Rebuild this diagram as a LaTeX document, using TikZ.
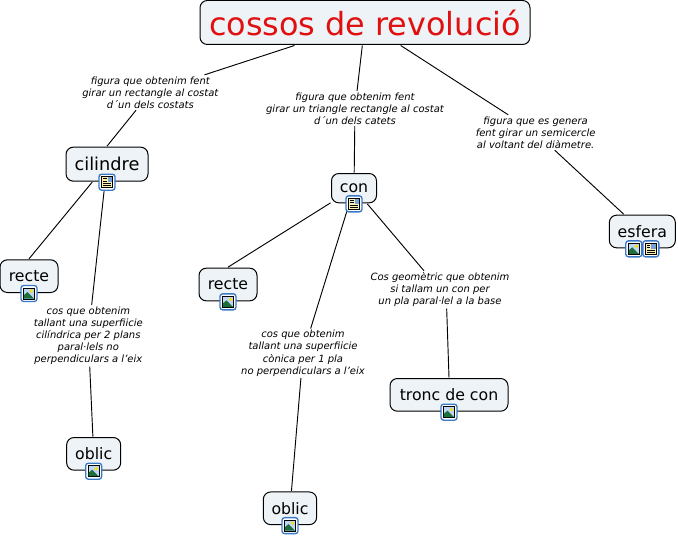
\documentclass[tikz,border=0pt]{standalone}
\usepackage{fontspec}
\setmainfont{DejaVu Sans}
\usepackage{xcolor}
\usetikzlibrary{positioning}
\definecolor{lightfill}{RGB}{237,243,246}
\definecolor{titlered}{RGB}{225,16,16}
\definecolor{iconblue}{RGB}{58,120,200}
\definecolor{iconcream}{RGB}{250,240,180}
\definecolor{iconsky}{RGB}{190,215,245}
\definecolor{icongreen}{RGB}{30,110,60}

\begin{document}
\begin{tikzpicture}[
    x=0.75pt, y=-0.75pt,
    box/.style={rectangle, draw, fill=lightfill, rounded corners=5.5pt, line width=0.75pt, outer sep=0.75pt, font=\fontsize{11.8pt}{14pt}\selectfont, inner sep=0pt, minimum height=24.5pt},
    title/.style={box, font=\fontsize{23.9pt}{28pt}\selectfont, text=titlered, minimum height=33pt},
    link/.style={align=center, inner sep=1pt, font=\fontsize{7.5pt}{9.15pt}\selectfont\itshape},
    conn/.style={line width=0.7pt},
    imgicon/.pic={
        \draw[iconblue, fill=white, rounded corners=2pt, line width=1pt] (-8,-8) rectangle (8,8);
        \draw[black, fill=iconsky, line width=0.5pt] (-5.5,-5.5) rectangle (5.5,5.5);
        \fill[yellow!80!orange] (2.5,-2.5) circle (1.8);
        \fill[icongreen] (-5,5) -- (-5,1.5) -- (-1.5,-1.5) -- (5,5) -- cycle;
    },
    docicon/.pic={
        \draw[iconblue, fill=white, rounded corners=2pt, line width=1pt] (-8,-8) rectangle (8,8);
        \draw[black, fill=iconcream, line width=0.5pt] (-5.5,-5.5) rectangle (5.5,5.5);
        \foreach \ypos in {-3.5,-1.2} \draw[black, line width=0.6pt] (-4,\ypos) -- (-0.5,\ypos);
        \foreach \ypos in {1.2,3.5} \draw[black, line width=0.6pt] (-4,\ypos) -- (4,\ypos);
        \fill[iconblue!70] (0.5,-4.8) rectangle (4.8,-0.3);
    }
]
    \useasboundingbox (0,0) rectangle (678,538);

    % Title
    \node[title, minimum width=247.5pt] (root) at (365,22.5) {cossos de revolució};

    % Left branch
    \node[link, below=22pt of root, xshift=-161pt] (lblcil) {figura que obtenim fent\\girar un rectangle al costat\\d´un dels costats};
    \node[box, below=27pt of lblcil, xshift=-32.5pt, minimum width=61.5pt, minimum height=25.5pt, font=\fontsize{13.3pt}{16pt}\selectfont] (cil) {cilindre};
    \node[box, below=57.5pt of cil, xshift=-58.5pt, minimum width=43.5pt] (recte1) {recte};
    \node[link, below=92pt of cil, xshift=-14pt] (lbloblic1) {cos que obtenim\\tallant una superfiicie\\cilíndrica per 2 plans\\paral·lels no\\perpendiculars a l'eix};
    \node[box, below=52.5pt of lbloblic1, xshift=4pt, minimum width=40.5pt] (oblic1) {oblic};

    % Middle branch
    \node[link, below=34pt of root, xshift=-7.5pt] (lblcon) {figura que obtenim fent\\girar un triangle rectangle al costat\\d´un dels catets};
    \node[box, below=34.75pt of lblcon, xshift=-0.75pt, minimum width=33.75pt, minimum height=22pt] (con) {con};
    \node[box, below=47.5pt of con, xshift=-94.5pt, minimum width=43.5pt] (recte2) {recte};
    \node[link, below=93.5pt of con, xshift=-38.25pt] (lbloblic2) {cos que obtenim\\tallant una superfiicie\\cònica per 1 pla\\no perpendiculars a l'eix};
    \node[box, below=84.75pt of lbloblic2, xshift=-9.75pt, minimum width=40pt] (oblic2) {oblic};
    \node[link, below=50.25pt of con, xshift=64.5pt] (lbltronc) {Cos geomètric que obtenim\\si tallam un con per\\un pla paral·lel a la base};
    \node[box, below=51.75pt of lbltronc, xshift=6.75pt, minimum width=88.5pt] (tronc) {tronc de con};

    % Right branch
    \node[link, below=52pt of root, xshift=128pt] (lblesf) {figura que es genera\\fent girar un semicercle\\al voltant del diàmetre.};
    \node[box, below=48pt of lblesf, xshift=80pt, minimum width=49.5pt] (esf) {esfera};

    % Connectors
    \draw[conn] (root) -- (lblcil);
    \draw[conn] (lblcil) -- (cil.north);
    \draw[conn] (cil) -- (recte1.north);
    \draw[conn] (cil) -- (lbloblic1);
    \draw[conn] (lbloblic1) -- (oblic1);
    \draw[conn] (root) -- (lblcon);
    \draw[conn] (lblcon) -- (con);
    \draw[conn] (con) -- (recte2.north);
    \draw[conn] (con) -- (lbloblic2);
    \draw[conn] (lbloblic2) -- (oblic2);
    \draw[conn] (con) -- (lbltronc);
    \draw[conn] ([xshift=5pt]lbltronc.south) -- (tronc.north);
    \draw[conn] (root) -- (lblesf);
    \draw[conn] (lblesf) -- (esf);

    % Icons
    \pic at (cil.south) {docicon};
    \pic at (recte1.south) {imgicon};
    \pic at (oblic1.south) {imgicon};
    \pic at (con.south) {docicon};
    \pic at (recte2.south) {imgicon};
    \pic at (oblic2.south) {imgicon};
    \pic at (tronc.south) {imgicon};
    \pic[xshift=-6.4pt] at (esf.south) {imgicon};
    \pic[xshift=6.4pt] at (esf.south) {docicon};
\end{tikzpicture}
\end{document}
